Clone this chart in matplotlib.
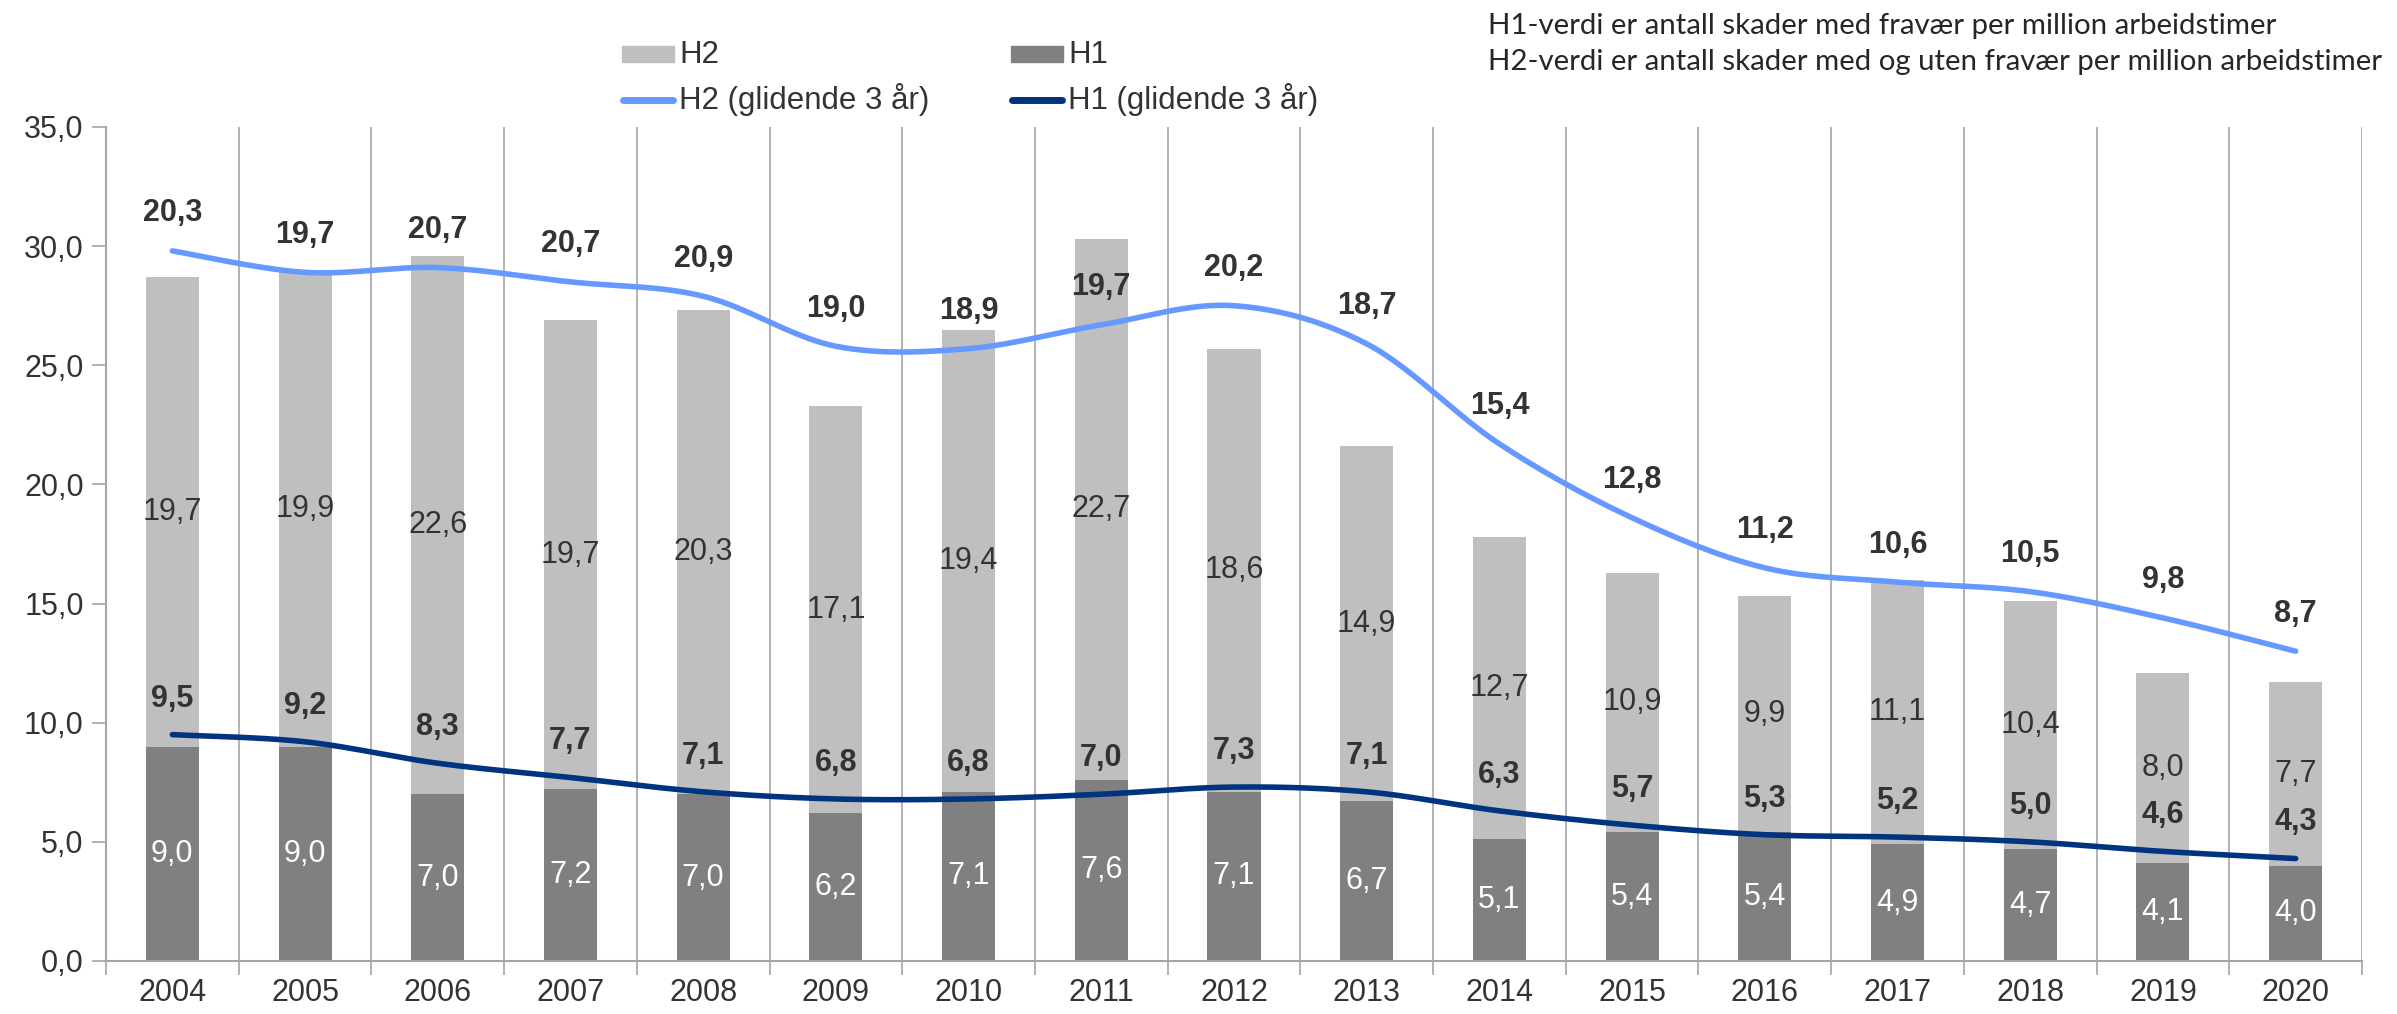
import numpy as np
import matplotlib
matplotlib.use("Agg")
import matplotlib.pyplot as plt
from matplotlib.patches import Rectangle
from matplotlib.lines import Line2D

years = ["2004", "2005", "2006", "2007", "2008", "2009", "2010", "2011", "2012",
         "2013", "2014", "2015", "2016", "2017", "2018", "2019", "2020"]
h1 = [9.0, 9.0, 7.0, 7.2, 7.0, 6.2, 7.1, 7.6, 7.1, 6.7, 5.1, 5.4, 5.4, 4.9, 4.7, 4.1, 4.0]
h2_seg = [19.7, 19.9, 22.6, 19.7, 20.3, 17.1, 19.4, 22.7, 18.6, 14.9, 12.7, 10.9, 9.9, 11.1, 10.4, 8.0, 7.7]
h2_line = [29.8, 28.9, 29.1, 28.5, 27.9, 25.8, 25.7, 26.7, 27.5, 25.9, 21.7, 18.6, 16.5, 15.9, 15.5, 14.4, 13.0]
h2_line_labels = [20.3, 19.7, 20.7, 20.7, 20.9, 19.0, 18.9, 19.7, 20.2, 18.7, 15.4, 12.8, 11.2, 10.6, 10.5, 9.8, 8.7]
h1_line = [9.5, 9.2, 8.3, 7.7, 7.1, 6.8, 6.8, 7.0, 7.3, 7.1, 6.3, 5.7, 5.3, 5.2, 5.0, 4.6, 4.3]
yticks = [0, 5, 10, 15, 20, 25, 30, 35]
legend_labels = ["H2", "H1", "H2 (glidende 3 år)", "H1 (glidende 3 år)"]
notes = ["H1-verdi er antall skader med fravær per million arbeidstimer",
         "H2-verdi er antall skader med og uten fravær per million arbeidstimer"]

C_H2 = "#BFBFBF"
C_H1 = "#808080"
C_H2L = "#6699FF"
C_H1L = "#003380"
TXT = "#333333"
GRID = "#A6A6A6"
FS = 22

plt.rcParams['font.family'] = ['Liberation Sans', 'DejaVu Sans']

def fmt(v):
    return f"{v:.1f}".replace(".", ",")

def smooth(xs, ys, n=30):
    xs = np.asarray(xs, float); ys = np.asarray(ys, float)
    px = np.concatenate([[xs[0]], xs, [xs[-1]]])
    py = np.concatenate([[ys[0]], ys, [ys[-1]]])
    outx, outy = [], []
    for i in range(1, len(px) - 2):
        p0 = np.array([px[i-1], py[i-1]]); p1 = np.array([px[i], py[i]])
        p2 = np.array([px[i+1], py[i+1]]); p3 = np.array([px[i+2], py[i+2]])
        c1 = p1 + (p2 - p0) / 6.0
        c2 = p2 - (p3 - p1) / 6.0
        t = np.linspace(0, 1, n)[:, None]
        pts = (1-t)**3*p1 + 3*(1-t)**2*t*c1 + 3*(1-t)*t**2*c2 + t**3*p2
        outx.extend(pts[:, 0]); outy.extend(pts[:, 1])
    return outx, outy

W, H = 2397, 1014
fig = plt.figure(figsize=(W/100, H/100), dpi=100)
ax = fig.add_axes([106/W, 1 - 961/H, (2362-106)/W, (961-127)/H])

x = np.arange(len(years))
w = 0.40
ax.bar(x, h1, w, color=C_H1, zorder=2)
ax.bar(x, h2_seg, w, bottom=h1, color=C_H2, zorder=2)

sx, sy = smooth(x, h2_line)
ax.plot(sx, sy, color=C_H2L, lw=4.0, solid_capstyle='round', zorder=3)
sx, sy = smooth(x, h1_line)
ax.plot(sx, sy, color=C_H1L, lw=4.0, solid_capstyle='round', zorder=3)

for i in range(len(years)):
    ax.text(x[i], h1[i] / 2, fmt(h1[i]), ha='center', va='center', color='white', fontsize=FS, zorder=4)
    ax.text(x[i], h1[i] + h2_seg[i] / 2, fmt(h2_seg[i]), ha='center', va='center', color=TXT, fontsize=FS, zorder=4)
    ax.annotate(fmt(h2_line_labels[i]), (x[i], h2_line[i]), xytext=(0, 27), textcoords='offset points',
                ha='center', va='center', fontsize=FS, fontweight='bold', color=TXT, zorder=4)
    ax.annotate(fmt(h1_line[i]), (x[i], h1_line[i]), xytext=(0, 26), textcoords='offset points',
                ha='center', va='center', fontsize=FS, fontweight='bold', color=TXT, zorder=4)

ax.set_xlim(-0.5, len(years) - 0.5)
ax.set_ylim(0, 35)
ax.set_yticks(yticks)
ax.set_yticklabels([fmt(v) for v in yticks], fontsize=FS, color=TXT)
ax.set_xticks(x)
ax.set_xticklabels(years, fontsize=FS, color=TXT)
ax.tick_params(axis='x', length=0, pad=12)
ax.tick_params(axis='y', length=10, color=GRID, width=1.2, pad=6)
ax.set_xticks(np.arange(-0.5, len(years), 1.0), minor=True)
ax.tick_params(axis='x', which='minor', length=10, color=GRID, width=1.2)
for b in np.arange(0.5, len(years), 1.0):
    ax.axvline(b, color=GRID, lw=1.2, zorder=1)
for s in ['top', 'right']:
    ax.spines[s].set_visible(False)
for s in ['left', 'bottom']:
    ax.spines[s].set_color(GRID)
    ax.spines[s].set_linewidth(1.5)

# legend (manual, figure pixel positions)
def fx(px): return px / W
def fy(py): return 1 - py / H
fig.patches.append(Rectangle((fx(622), fy(62)), 52/W, 16/H, transform=fig.transFigure, color=C_H2))
fig.patches.append(Rectangle((fx(1011), fy(62)), 52/W, 16/H, transform=fig.transFigure, color=C_H1))
fig.lines.append(Line2D([fx(623), fx(673)], [fy(100), fy(100)], transform=fig.transFigure,
                        color=C_H2L, lw=5, solid_capstyle='round'))
fig.lines.append(Line2D([fx(1012), fx(1062)], [fy(100), fy(100)], transform=fig.transFigure,
                        color=C_H1L, lw=5, solid_capstyle='round'))
for lab, (px, py) in zip(legend_labels, [(679, 63), (1068, 63), (679, 109), (1068, 109)]):
    fig.text(fx(px), fy(py), lab, fontsize=22.5, color=TXT, ha='left', va='baseline')

fig.text(fx(1488), fy(34), notes[0], fontsize=21.2, family=['Lato', 'DejaVu Sans'],
         color='#262626', va='baseline', ha='left')
fig.text(fx(1488), fy(70), notes[1], fontsize=21.2, family=['Lato', 'DejaVu Sans'],
         color='#262626', va='baseline', ha='left')

fig.savefig("out.png", dpi=100)
